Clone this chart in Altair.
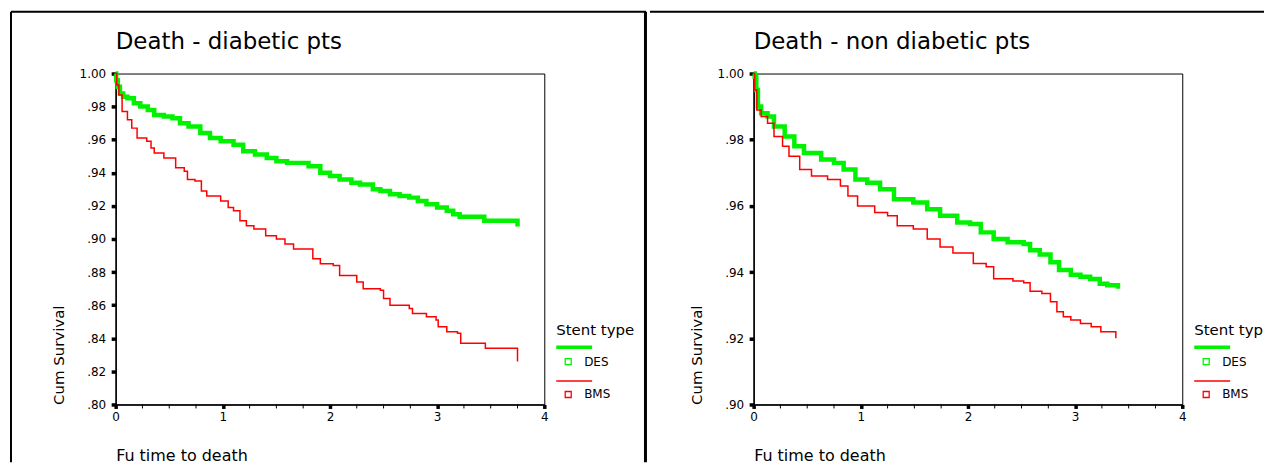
import altair as alt
import pandas as pd

FONT = "DejaVu Sans"
GREEN = "#00f200"
RED = "#ff0000"

# ---------------- data ----------------
TYPES = ["DES", "BMS"]
X_TICKS = [0, 1, 2, 3, 4]
X_MINOR = [0.25, 0.5, 0.75, 1.25, 1.5, 1.75, 2.25, 2.5, 2.75, 3.25, 3.5, 3.75]

LEFT_TITLE = "Death - diabetic pts"
RIGHT_TITLE = "Death - non diabetic pts"
X_TITLE = "Fu time to death"
Y_TITLE = "Cum Survival"
LEGEND_TITLE = "Stent type"

L_Y_TICKS = [0.80, 0.82, 0.84, 0.86, 0.88, 0.90, 0.92, 0.94, 0.96, 0.98, 1.00]
R_Y_TICKS = [0.90, 0.92, 0.94, 0.96, 0.98, 1.00]

# diabetic patients
L_DES_T = [0, 0.005, 0.02, 0.04, 0.07, 0.11, 0.17, 0.23, 0.30, 0.36, 0.45, 0.53, 0.60, 0.68,
           0.79, 0.88, 0.98, 1.10, 1.19, 1.30, 1.41, 1.50, 1.60, 1.80, 1.91, 2.00, 2.09, 2.20,
           2.28, 2.40, 2.47, 2.56, 2.65, 2.74, 2.82, 2.90, 3.00, 3.09, 3.15, 3.21, 3.44, 3.75]
L_DES_S = [1.000, 0.996, 0.992, 0.988, 0.986, 0.985, 0.982, 0.980, 0.978, 0.975, 0.974, 0.973,
           0.970, 0.968, 0.964, 0.961, 0.959, 0.957, 0.953, 0.951, 0.949, 0.947, 0.946, 0.944,
           0.940, 0.938, 0.936, 0.934, 0.933, 0.930, 0.929, 0.927, 0.926, 0.925, 0.923, 0.921,
           0.919, 0.917, 0.915, 0.9135, 0.911, 0.9075]
L_BMS_T = [0, 0.01, 0.03, 0.06, 0.11, 0.15, 0.20, 0.29, 0.33, 0.36, 0.45, 0.56, 0.64, 0.67,
           0.74, 0.80, 0.85, 0.98, 1.05, 1.10, 1.16, 1.22, 1.29, 1.40, 1.50, 1.58, 1.66, 1.84,
           1.91, 2.03, 2.09, 2.25, 2.31, 2.47, 2.50, 2.56, 2.74, 2.77, 2.90, 2.99, 3.01, 3.09,
           3.19, 3.22, 3.45, 3.75]
L_BMS_S = [1.000, 0.993, 0.987, 0.977, 0.972, 0.967, 0.961, 0.959, 0.955, 0.952, 0.949, 0.943,
           0.941, 0.936, 0.935, 0.929, 0.926, 0.923, 0.919, 0.917, 0.911, 0.908, 0.906, 0.902,
           0.900, 0.897, 0.894, 0.888, 0.885, 0.884, 0.878, 0.874, 0.870, 0.869, 0.864, 0.860,
           0.858, 0.855, 0.853, 0.851, 0.847, 0.844, 0.843, 0.837, 0.834, 0.826]

# non diabetic patients
R_DES_T = [0, 0.01, 0.025, 0.04, 0.07, 0.13, 0.19, 0.29, 0.38, 0.47, 0.63, 0.75, 0.84, 0.95,
           1.06, 1.18, 1.31, 1.49, 1.62, 1.74, 1.90, 2.02, 2.12, 2.24, 2.37, 2.52, 2.58, 2.67,
           2.77, 2.85, 2.96, 3.05, 3.14, 3.23, 3.30, 3.40]
R_DES_S = [1.000, 0.999, 0.995, 0.990, 0.988, 0.987, 0.984, 0.981, 0.978, 0.976, 0.974, 0.973,
           0.971, 0.968, 0.967, 0.965, 0.962, 0.961, 0.959, 0.957, 0.955, 0.9545, 0.952, 0.950,
           0.949, 0.9485, 0.9466, 0.9453, 0.943, 0.9406, 0.9392, 0.9386, 0.9379, 0.9365, 0.936,
           0.935]
R_BMS_T = [0, 0.01, 0.03, 0.07, 0.13, 0.19, 0.27, 0.33, 0.43, 0.54, 0.69, 0.81, 0.88, 0.97,
           1.13, 1.25, 1.34, 1.49, 1.62, 1.74, 1.86, 2.05, 2.17, 2.24, 2.42, 2.52, 2.58, 2.69,
           2.77, 2.83, 2.89, 2.96, 3.05, 3.15, 3.24, 3.38]
R_BMS_S = [1.000, 0.995, 0.989, 0.987, 0.985, 0.981, 0.978, 0.975, 0.971, 0.969, 0.968, 0.966,
           0.963, 0.960, 0.958, 0.957, 0.954, 0.953, 0.950, 0.9476, 0.9458, 0.9426, 0.9416,
           0.938, 0.9373, 0.9368, 0.9342, 0.9335, 0.931, 0.928, 0.9265, 0.9255, 0.9245, 0.9235,
           0.922, 0.920]

# ---------------- layout ----------------
W, H = 430, 332
ONE = pd.DataFrame({"k": [0]})


def rule(x1, x2, y1, y2, sw, color="black"):
    enc = {"x": alt.value(x1), "y": alt.value(y1)}
    if x2 is not None:
        enc["x2"] = alt.value(x2)
    if y2 is not None:
        enc["y2"] = alt.value(y2)
    return alt.Chart(ONE).mark_rule(color=color, strokeWidth=sw).encode(**enc)


def label(text, x, y, size, limit=None):
    kw = {}
    if limit is not None:
        kw = {"limit": limit, "ellipsis": "\u200b"}
    return alt.Chart(ONE).mark_text(
        text=text, align="left", baseline="alphabetic", font=FONT, fontSize=size,
        color="black", **kw).encode(x=alt.value(x), y=alt.value(y))


def panel(title, des_t, des_s, bms_t, bms_s, y_ticks, frame_rules, legend_limit=None):
    curves = pd.DataFrame({
        "time": des_t + bms_t,
        "surv": des_s + bms_s,
        "type": ["DES"] * len(des_t) + ["BMS"] * len(bms_t),
    })
    xs = alt.Scale(domain=[0, 4], nice=False)
    ys = alt.Scale(domain=[y_ticks[0], 1.0], nice=False, zero=False)
    x_axis = alt.Axis(
        values=X_TICKS, format="d", title=X_TITLE, grid=False, labelFlush=False,
        tickSize=4, tickWidth=3.5, tickColor="black", domainColor="black", domainWidth=1.5,
        labelFont=FONT, labelFontSize=12, labelColor="black", labelPadding=3,
        titleFont=FONT, titleFontSize=16, titleFontWeight="normal", titleColor="black",
        titleX=0, titleY=56, titleAlign="left", titleBaseline="alphabetic",
    )
    y_axis = alt.Axis(
        values=y_ticks, title=Y_TITLE, grid=False, labelFlush=False,
        labelExpr="datum.value >= 0.999 ? format(datum.value, '.2f') : substring(format(datum.value, '.2f'), 1)",
        tickSize=4.5, tickWidth=3.5, tickColor="black", domainColor="black", domainWidth=1.5,
        labelFont=FONT, labelFontSize=12, labelColor="black", labelPadding=5.5,
        titleFont=FONT, titleFontSize=15, titleFontWeight="normal", titleColor="black",
        titleAngle=270, titleX=-52, titleY=H, titleAlign="left", titleBaseline="alphabetic",
    )
    x_enc = alt.X("time:Q", scale=xs, axis=x_axis)
    y_enc = alt.Y("surv:Q", scale=ys, axis=y_axis)
    color = alt.Color(
        "type:N",
        scale=alt.Scale(domain=TYPES, range=[GREEN, RED]),
        legend=alt.Legend(
            title=None, orient="none", legendX=441, legendY=283, direction="vertical",
            padding=0, labelFont=FONT, labelFontSize=12, labelColor="black", labelOffset=10,
            symbolType="square", symbolSize=36, symbolStrokeWidth=1.3, symbolOffset=7,
            rowPadding=21,
        ),
    )
    base = alt.Chart(curves)
    des = base.transform_filter(alt.datum.type == "DES").mark_line(
        interpolate="step-after").encode(x=x_enc, y=y_enc, color=color,
                                         strokeWidth=alt.value(4.5))
    bms = base.transform_filter(alt.datum.type == "BMS").mark_line(
        interpolate="step-after").encode(x=x_enc, y=y_enc, color=color,
                                         strokeWidth=alt.value(1.5))
    minor = alt.Chart(pd.DataFrame({"time": X_MINOR})).mark_rule(
        color="black", strokeWidth=1).encode(x=x_enc, y=alt.value(H), y2=alt.value(H + 4))
    ttl = label(title, 0, -25, 23)
    leg_title = label(LEGEND_TITLE, 442, 262, 15, legend_limit)
    leg_green = rule(442, 478, 274.5, None, 3.5, GREEN)
    leg_red = rule(442, 478, 308.5, None, 1.5, RED)
    return alt.layer(*frame_rules, ttl, minor, des, bms, leg_title, leg_green, leg_red).properties(
        width=W, height=H)


left_frame = [
    rule(-105, 532, -62, None, 2),        # top border
    rule(-105, None, -62, 390, 2),        # left border
    rule(531.5, None, -62, 390, 3),       # separator
]
right_frame = [
    rule(-104, 512, -62, None, 2),        # top border
]

left = panel(LEFT_TITLE, L_DES_T, L_DES_S, L_BMS_T, L_BMS_S, L_Y_TICKS, left_frame)
right = panel(RIGHT_TITLE, R_DES_T, R_DES_S, R_BMS_T, R_BMS_S, R_Y_TICKS, right_frame,
              legend_limit=70)

chart = alt.hconcat(left, right, spacing=0).resolve_scale(
    color="independent", x="independent", y="independent"
).resolve_legend(color="independent").properties(
    padding={"left": 1, "top": 1, "right": 0, "bottom": 0},
    background="white",
).configure_view(stroke="black", strokeWidth=1)

chart.save("out.html", embed_options={"renderer": "svg", "actions": False})
